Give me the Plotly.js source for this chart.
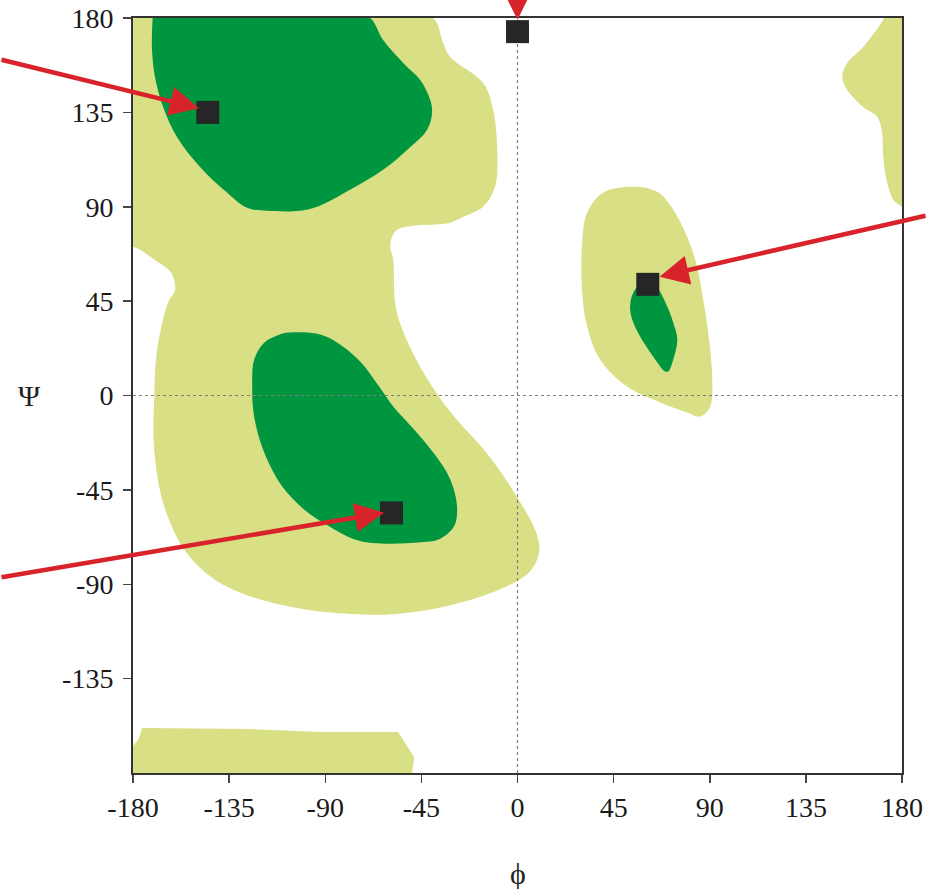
<!DOCTYPE html>
<html>
<head>
<meta charset="utf-8">
<script src="https://cdn.plot.ly/plotly-3.0.1.min.js"></script>
<style>html,body{margin:0;padding:0;background:#fff;}#chart{width:927px;height:889px;}</style>
</head>
<body>
<div id="chart"></div>
<script>
// ---- Ramachandran regions (phi, psi in degrees) ----
// light (allowed) region: beta + alpha-R basin
const allowedMainPhi = [-184, -60, -39.5, -34.8, -31.5, -16.1, -11.4, -9.5, -10.5, -16.1, -25.4, -31.5, -56.3, -59.6, -58.2, -56.8, -49.8, -40.0, -29.7, -14.7, -1.6, 8.7, 10.1, 5.5, -8.1, -33.4, -58.2, -75.1, -99.9, -125.2, -142.0, -155.1, -165.4, -170.1, -170.1, -168.7, -163.6, -160.3, -162.2, -170.1, -176.7, -184];
const allowedMainPsi = [184, 184, 180, 168.1, 161.4, 149.0, 136.2, 117.1, 99.5, 90.0, 85.2, 82.4, 79.0, 71.9, 64.8, 41.0, 21.9, 4.3, -10.0, -27.1, -46.2, -65.2, -74.8, -84.3, -92.4, -100.5, -104.3, -104.3, -101.9, -95.7, -87.6, -74.8, -52.9, -25.7, -1.9, 21.9, 44.3, 50.5, 58.6, 64.8, 69.5, 72.5];
// favoured beta-sheet region
const betaPhi = [-170.6, -80, -69.0, -62.9, -53.5, -45.6, -40.9, -40.0, -42.3, -51.7, -62.9, -78.4, -93.8, -101.8, -117.2, -126.6, -135.9, -148.6, -159.4, -165.9, -169.7, -171.1, -171.0];
const betaPsi = [184, 184, 180, 169.5, 158.6, 150.5, 141.0, 134.8, 126.7, 117.1, 107.6, 98.1, 90.0, 88.1, 88.1, 89.5, 96.7, 109.0, 123.3, 137.6, 151.9, 164.8, 176];
// favoured right-handed alpha region
const alphaRPhi = [-106.9, -91.9, -81.6, -73.2, -64.8, -58.2, -48.4, -38.1, -31.5, -28.3, -29.7, -36.7, -45.1, -66.6, -76.5, -88.2, -99.9, -110.2, -118.6, -123.3, -124.2, -123.3, -118.6, -111.6, -106.9];
const alphaRPsi = [30.0, 29.0, 23.3, 15.7, 4.3, -5.2, -16.2, -29.0, -40.0, -52.9, -62.4, -68.6, -70.0, -70.5, -68.6, -62.4, -54.3, -43.3, -27.1, -10.0, 4.3, 17.1, 25.2, 29.0, 30.0];
// allowed left-handed alpha region
const allowedLPhi = [54.2, 65.4, 72.9, 79.4, 84.1, 86.9, 89.3, 91.1, 90.2, 85.5, 79.4, 66.8, 51.3, 38.7, 32.6, 30.3, 30.3, 32.6, 40.1, 54.2];
const allowedLPsi = [99.5, 97.1, 88.6, 75.7, 61.4, 45.7, 30.0, 9.0, -5.2, -10.0, -8.1, -3.3, 4.3, 17.1, 32.9, 49.0, 72.9, 87.1, 96.7, 99.5];
// favoured left-handed alpha region
const alphaLPhi = [59.8, 65.4, 70.1, 72.9, 74.8, 72.9, 70.5, 69.1, 63.5, 57.4, 53.7, 52.7, 54.2, 59.8];
const alphaLPsi = [55.2, 51.4, 42.4, 34.8, 26.7, 17.1, 11.4, 11.4, 18.6, 28.1, 36.2, 42.4, 49.0, 55.2];
// allowed wrap-around region, top right
const allowedTRPhi = [184, 184, 180, 175.9, 173.1, 171.2, 170.7, 168.4, 161.8, 154.4, 152.0, 154.4, 161.8, 170.5, 173.5];
const allowedTRPsi = [184, 88, 90.0, 93.3, 101.4, 113.8, 125.2, 132.9, 137.6, 145.7, 151.9, 158.6, 166.2, 178, 184];
// allowed wrap-around strip, bottom left
const allowedBLPhi = [-184, -184, -177.5, -175.7, -125.2, -91.9, -55.9, -48.4, -49.8];
const allowedBLPsi = [-184, -172, -164, -158.6, -159.0, -160.5, -160.5, -172.4, -184];

// highlighted residues
const pointPhi = [-145, 0, 61, -59];
const pointPsi = [135, 173.5, 53, -56];

// ticks
const xTicks = [-180, -135, -90, -45, 0, 45, 90, 135, 180];
const xTickText = ['-180', '-135', '-90', '-45', '0', '45', '90', '135', '180'];
const yTicks = [-135, -90, -45, 0, 45, 90, 135, 180];
const yTickText = ['-135', '-90', '-45', '0', '45', '90', '135', '180'];

const LIGHT = '#d8df84';
const DARK = '#00963f';
const FONT = 'Liberation Serif, Times New Roman, Times, serif';

function region(x, y, color, shape) {
  return {
    x: x, y: y, type: 'scatter', mode: 'lines', fill: 'toself',
    fillcolor: color,
    line: {width: 0, color: color, shape: shape || 'spline', smoothing: 1},
    hoverinfo: 'skip'
  };
}

const traces = [
  region(allowedMainPhi, allowedMainPsi, LIGHT),
  region(allowedLPhi, allowedLPsi, LIGHT),
  region(allowedTRPhi, allowedTRPsi, LIGHT),
  region(allowedBLPhi, allowedBLPsi, LIGHT, 'linear'),
  region(betaPhi, betaPsi, DARK),
  region(alphaRPhi, alphaRPsi, DARK),
  region(alphaLPhi, alphaLPsi, DARK),
  {x: [0, 0], y: [-180, 180], type: 'scatter', mode: 'lines',
   line: {color: '#808080', width: 1.2, dash: 'dot'}, hoverinfo: 'skip'},
  {x: [-180, 180], y: [0, 0], type: 'scatter', mode: 'lines',
   line: {color: '#808080', width: 1.2, dash: 'dot'}, hoverinfo: 'skip'},
  {x: pointPhi, y: pointPsi, type: 'scatter', mode: 'markers', cliponaxis: false,
   marker: {symbol: 'square', size: 23, color: '#262626', line: {width: 0}}}
];

const arrowStyle = {text: '', showarrow: true, arrowhead: 2, arrowsize: 1.3, arrowwidth: 4.5,
  arrowcolor: '#d9232b', axref: 'pixel', ayref: 'pixel', xref: 'x', yref: 'y'};

const annotations = [
  Object.assign({}, arrowStyle, {x: pointPhi[0], y: pointPsi[0], ax: -247, ay: -51, yshift: 2, standoff: 9}),
  Object.assign({}, arrowStyle, {x: pointPhi[1], y: pointPsi[1], ax: 0, ay: -80, standoff: 12}),
  Object.assign({}, arrowStyle, {x: pointPhi[2], y: pointPsi[2], ax: 312, ay: -64, yshift: 5, standoff: 12}),
  Object.assign({}, arrowStyle, {x: pointPhi[3], y: pointPsi[3], ax: -431, ay: 66, yshift: 1.5, standoff: 7.5}),
  {text: 'Ψ', showarrow: false, xref: 'paper', yref: 'y', x: -0.134, y: 0,
   xanchor: 'center', yanchor: 'middle', font: {family: FONT, size: 30, color: '#222'}},
  {text: 'ϕ', showarrow: false, xref: 'x', yref: 'paper', x: 0, y: -0.1325,
   xanchor: 'center', yanchor: 'middle', font: {family: FONT, size: 30, color: '#222'}}
];

const axisCommon = {
  range: [-180, 180], autorange: false, showgrid: false, zeroline: false,
  ticks: 'outside', ticklen: 8, tickwidth: 1.5, tickcolor: '#444',
  showline: true, linecolor: '#333', linewidth: 2, mirror: true,
  tickfont: {family: FONT, size: 28, color: '#1a1a1a'}, fixedrange: true
};

const layout = {
  width: 927, height: 889,
  margin: {l: 133, r: 25, t: 18, b: 116, pad: 0},
  paper_bgcolor: '#ffffff', plot_bgcolor: '#ffffff',
  showlegend: false,
  xaxis: Object.assign({}, axisCommon, {tickmode: 'array', tickvals: xTicks, ticktext: xTickText}),
  yaxis: Object.assign({}, axisCommon, {tickmode: 'array', tickvals: yTicks, ticktext: yTickText, ticklabelstandoff: 4}),
  annotations: annotations
};

Plotly.newPlot('chart', traces, layout, {displayModeBar: false, staticPlot: true});
</script>
</body>
</html>
